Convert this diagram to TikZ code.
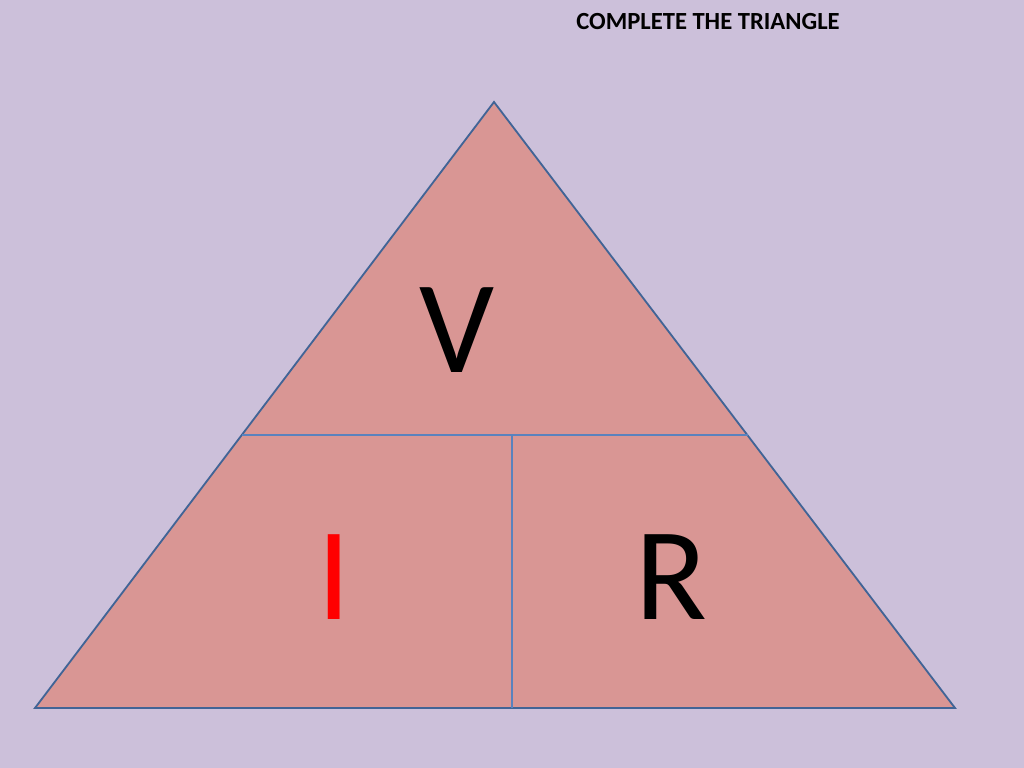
\documentclass[tikz,border=0pt]{standalone}
\usepackage{fontspec}
\setmainfont{Carlito}
\definecolor{bgcol}{RGB}{204,192,218}
\definecolor{trifill}{RGB}{217,150,148}
\definecolor{edgecol}{RGB}{65,100,150}
\definecolor{splitcol}{RGB}{90,130,190}
\begin{document}
\begin{tikzpicture}[x=0.025cm,y=-0.025cm,
	big_letter/.style={font=\fontsize{94}{94}\selectfont,inner sep=0pt},
	title_node/.style={font=\fontsize{17.5}{20}\selectfont\bfseries,inner sep=0pt}]
		
		\fill[bgcol] (0,0) rectangle (1024,768);
		
		\coordinate (top) at (494,102);
		\coordinate (bl) at (35,708);
		\coordinate (br) at (955,708);
		\coordinate (ml) at (242,435);
		\coordinate (mr) at (748,435);
		\coordinate (mt) at (512,435);
		\coordinate (mb) at (512,708);
		
		\draw[edgecol,fill=trifill,line width=1.3pt] (top) -- (br) -- (bl) -- cycle;
		\draw[splitcol,line width=1.3pt] (ml) -- (mr);
		\draw[splitcol,line width=1.3pt] (mt) -- (mb);
		
		\node[title_node] (title) at (708,22) {COMPLETE THE TRIANGLE};
		\node[big_letter] (v) at (457,330) {V};
		\node[big_letter,text=red] (i) at (334,577) {I};
		\node[big_letter] (r) at (671,577) {R};
		\end{tikzpicture}
\end{document}
